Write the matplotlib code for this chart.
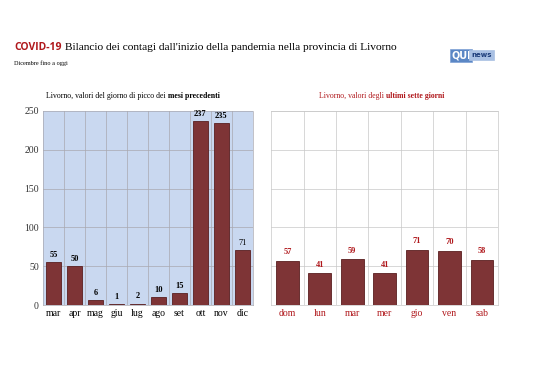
import matplotlib.pyplot as plt
import numpy as np

# monthly peak values
mesi = ['mar', 'apr', 'mag', 'giu', 'lug', 'ago', 'set', 'ott', 'nov', 'dic']
picco = [55, 50, 6, 1, 2, 10, 15, 237, 235, 71]

# last seven days
giorni = ['dom', 'lun', 'mar', 'mer', 'gio', 'ven', 'sab']
ultimi = [57, 41, 59, 41, 71, 70, 58]

yticks = [0, 50, 100, 150, 200, 250]

serif = 'Liberation Serif'
bar_col = '#7e3436'
edge_col = '#5a1f20'
red = '#b0181c'
grid_col = '#c8c8c8'

fig = plt.figure(figsize=(5.38, 3.8), dpi=100)
fig.patch.set_facecolor('white')

# title
t = fig.text(0.026, 0.868, 'COVID-19', fontsize=7.5, fontweight='bold', color=red,
             family='Open Sans', va='baseline')
fig.canvas.draw()
bb = t.get_window_extent()
fig.text((bb.x1 + 4) / fig.bbox.width, 0.868,
         "Bilancio dei contagi dall'inizio della pandemia nella provincia di Livorno",
         fontsize=8.2, family=serif, va='baseline')
fig.text(0.026, 0.830, 'Dicembre fino a oggi', fontsize=4.5, family=serif, va='baseline')
fig.text(0.875, 0.855, 'QUI', fontsize=7, fontweight='bold', color='white', family='DejaVu Sans',
         va='center', ha='right',
         bbox=dict(boxstyle='square,pad=0.15', fc='#5b87c5', ec='#7fa2d6', lw=0.5))
fig.text(0.876, 0.855, 'news', fontsize=5, fontweight='bold', color='#1c3c7a', family='DejaVu Sans',
         va='center', ha='left',
         bbox=dict(boxstyle='square,pad=0.3', fc='#a9c0e3', ec='#a9c0e3', lw=0.5))

# left panel
ax1 = fig.add_axes([0.080, 0.197, 0.390, 0.511])
ax1.set_facecolor('#c9d8f0')
x1 = np.arange(len(mesi))
ax1.bar(x1, picco, width=0.7, color=bar_col, edgecolor=edge_col, linewidth=0.6, zorder=3)
ax1.set_xlim(-0.5, len(mesi) - 0.5)
ax1.set_ylim(0, 250)
ax1.set_yticks(yticks)
ax1.set_yticklabels([str(v) for v in yticks], family=serif, fontsize=7, color='#333333')
ax1.set_xticks(x1)
ax1.set_xticklabels(mesi, family=serif, fontsize=7)
ax1.set_xticks(np.arange(0.5, len(mesi) - 0.5), minor=True)
ax1.grid(True, which='minor', axis='x', color='#a8a8b0', lw=0.5, zorder=1)
ax1.grid(True, which='major', axis='y', color='#a8a8b0', lw=0.5, zorder=1)
ax1.tick_params(axis='both', which='both', length=0, pad=3)
for s in ax1.spines.values():
    s.set_color('#a8a8b0')
    s.set_linewidth(0.5)
ax1.spines['top'].set_visible(False)
for i, v in enumerate(picco):
    w = 'normal' if mesi[i] == 'dic' else 'bold'
    ax1.text(i, v + 4, str(v), ha='center', va='bottom', fontsize=6, fontweight=w,
             family=serif, zorder=4)
ax1.text(0.595, 1.055, 'Livorno, valori del giorno di picco dei ', transform=ax1.transAxes,
         ha='right', va='bottom', fontsize=5.6, family=serif)
ax1.text(0.595, 1.055, 'mesi precedenti', transform=ax1.transAxes, ha='left', va='bottom',
         fontsize=5.6, family=serif, fontweight='bold')

# right panel
ax2 = fig.add_axes([0.504, 0.197, 0.422, 0.511])
x2 = np.arange(len(giorni))
ax2.bar(x2, ultimi, width=0.7, color=bar_col, edgecolor=edge_col, linewidth=0.6, zorder=3)
ax2.set_xlim(-0.5, len(giorni) - 0.5)
ax2.set_ylim(0, 250)
ax2.set_yticks(yticks)
ax2.set_yticklabels([])
ax2.set_xticks(x2)
ax2.set_xticklabels(giorni, family=serif, fontsize=7, color=red)
ax2.set_xticks(np.arange(0.5, len(giorni) - 0.5), minor=True)
ax2.grid(True, which='minor', axis='x', color=grid_col, lw=0.5, zorder=1)
ax2.grid(True, which='major', axis='y', color=grid_col, lw=0.5, zorder=1)
ax2.tick_params(axis='both', which='both', length=0, pad=3)
for s in ax2.spines.values():
    s.set_color(grid_col)
    s.set_linewidth(0.5)
for i, v in enumerate(ultimi):
    ax2.text(i, v + 6, str(v), ha='center', va='bottom', fontsize=6, fontweight='bold',
             family=serif, color=red, zorder=4)
ax2.text(0.505, 1.055, 'Livorno, valori degli ', transform=ax2.transAxes,
         ha='right', va='bottom', fontsize=5.6, family=serif, color=red)
ax2.text(0.505, 1.055, 'ultimi sette giorni', transform=ax2.transAxes, ha='left', va='bottom',
         fontsize=5.6, family=serif, fontweight='bold', color=red)

fig.savefig('out.png', dpi=100)
